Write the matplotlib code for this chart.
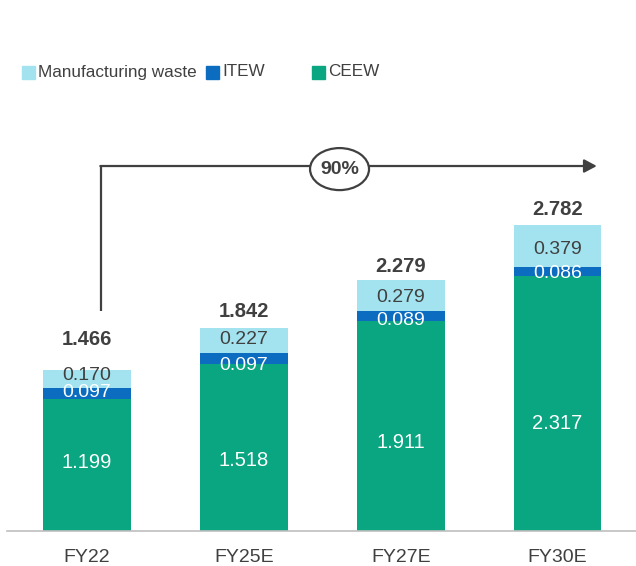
import numpy as np
import matplotlib.pyplot as plt
from matplotlib.patches import Ellipse, Rectangle

plt.rcParams['font.family'] = ['Liberation Sans', 'DejaVu Sans']

years = ['FY22', 'FY25E', 'FY27E', 'FY30E']
ceew = [1.199, 1.518, 1.911, 2.317]
itew = [0.097, 0.097, 0.089, 0.086]
mfg = [0.170, 0.227, 0.279, 0.379]
totals = [1.466, 1.842, 2.279, 2.782]
growth = '90%'

series = ['Manufacturing waste', 'ITEW', 'CEEW']
colors = {'Manufacturing waste': '#A2E3EF', 'ITEW': '#0B6CC0', 'CEEW': '#0AA681'}
dark = '#404040'

# label nudges so they sit like in the original slide
ceew_frac = [0.52, 0.42, 0.42, 0.42]
itew_off = [0.01, -0.06, -0.04, -0.015]
mfg_off = [0.03, 0.01, -0.02, -0.035]
total_pts = [15, 5, 3, 4.5]

fig = plt.figure(figsize=(6.36, 5.66), dpi=100)
ax = fig.add_axes([7/636, 35/566, 629/636, 430/566])

x = np.arange(len(years))
w = 0.56
ceew = np.array(ceew)
itew = np.array(itew)
mfg = np.array(mfg)

ax.bar(x, ceew, w, color=colors['CEEW'])
ax.bar(x, itew, w, bottom=ceew, color=colors['ITEW'])
ax.bar(x, mfg, w, bottom=ceew + itew, color=colors['Manufacturing waste'])

for i in range(len(years)):
    ax.text(x[i], ceew[i] * ceew_frac[i], f'{ceew[i]:.3f}', ha='center', va='center',
            color='white', fontsize=14.5)
    ax.text(x[i], ceew[i] + itew[i] / 2 + itew_off[i], f'{itew[i]:.3f}', ha='center',
            va='center', color='white', fontsize=14)
    ax.text(x[i], ceew[i] + itew[i] + mfg[i] / 2 + mfg_off[i], f'{mfg[i]:.3f}',
            ha='center', va='center', color=dark, fontsize=14)
    ax.annotate(f'{totals[i]:.3f}', (x[i], totals[i]), xytext=(0, total_pts[i]),
                textcoords='offset points', ha='center', va='bottom',
                fontsize=14.5, fontweight='bold', color=dark)

ax.set_xlim(-0.51, 3.5)
ax.set_ylim(0, 3.909)
ax.set_xticks(x)
ax.set_xticklabels(years, fontsize=14, color=dark)
ax.tick_params(axis='x', length=0, pad=13)
ax.set_yticks([])
for s in ['top', 'right', 'left']:
    ax.spines[s].set_visible(False)
ax.spines['bottom'].set_color('#BFBFBF')
ax.spines['bottom'].set_linewidth(1.2)

# growth arrow
ax.plot([0.089, 0.089], [2.0, 3.318], color=dark, lw=1.6, solid_capstyle='butt')
ax.annotate('', xy=(3.25, 3.318), xytext=(0.085, 3.318),
            arrowprops=dict(arrowstyle='-|>,head_length=0.75,head_width=0.4',
                            color=dark, lw=1.6, shrinkA=0, shrinkB=0))
ax.add_patch(Ellipse((1.61, 3.29), 0.376, 0.382, facecolor='white', edgecolor=dark,
                     lw=1.6, zorder=5))
ax.text(1.61, 3.29, growth, ha='center', va='center', fontsize=14,
        fontweight='bold', color=dark, zorder=6)

# legend drawn by hand
leg_x = [22, 206, 312]
for name, lx in zip(series, leg_x):
    fig.patches.append(Rectangle((lx/636, (566-79)/566), 13/636, 13/566,
                                 transform=fig.transFigure, color=colors[name]))
    fig.text((lx + 16)/636, (566-72)/566, name, ha='left', va='center',
             fontsize=12.3, color=dark)

plt.savefig('out.png', dpi=100)
